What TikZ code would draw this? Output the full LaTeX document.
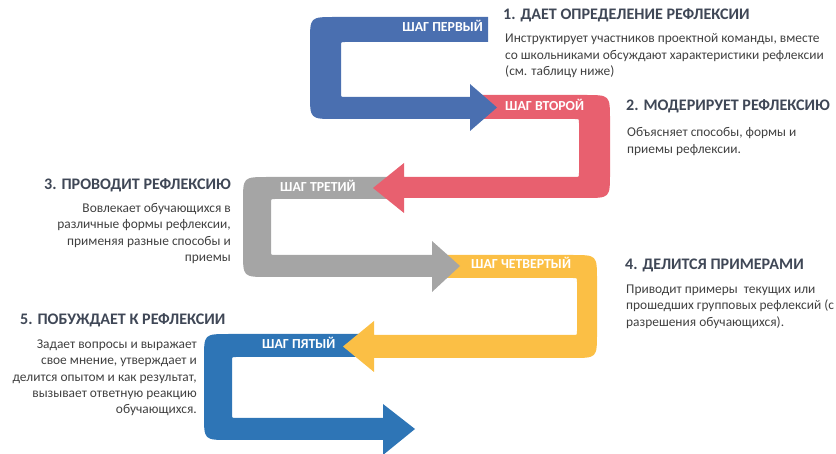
\documentclass[tikz,border=0pt]{standalone}
\usepackage{fontspec}
\setmainfont{Carlito}
\definecolor{blueA}{HTML}{4A6FB0}
\definecolor{pinkA}{HTML}{E8606F}
\definecolor{grayA}{HTML}{A5A5A5}
\definecolor{yellowA}{HTML}{FBBF45}
\definecolor{blueB}{HTML}{2E75B6}
\definecolor{headC}{HTML}{3F4756}
\definecolor{bodyC}{HTML}{404040}
\tikzset{
  steplabel/.style={text=white,font=\bfseries\fontsize{13.8}{16}\selectfont,inner sep=0pt,text height=0.7em,text depth=0.2em},
  headtxt/.style={text=headC,font=\bfseries\fontsize{16.1}{19}\selectfont,inner sep=0pt,text height=0.7em,text depth=0.2em},
  bodytxt/.style={text=bodyC,font=\fontsize{13.4}{16}\selectfont,inner sep=0pt,text height=0.7em,text depth=0.2em}
}
\begin{document}
\begin{tikzpicture}[x=1pt,y=-1pt]
\useasboundingbox (0,0) rectangle (836,454);
% arrows, drawn last-to-first so heads overlap the next bar
\fill[blueB] (360,334) -- (229,334) .. controls (204,334) .. (204,359) -- (204,415) .. controls (204,440) .. (229,440) -- (383,440) -- (383,455) -- (415,429) -- (383,404) -- (383,418) -- (236,418) .. controls (232,418) .. (232,414) -- (232,361) .. controls (232,357) .. (236,357) -- (360,357) -- cycle;
\fill[yellowA] (445,255) -- (572,255) .. controls (597,255) .. (597,280) -- (597,333) .. controls (597,358) .. (572,358) -- (374,358) -- (374,372) -- (343,346.5) -- (374,321) -- (374,335) -- (573,335) .. controls (577,335) .. (577,331) -- (577,282) .. controls (577,278) .. (573,278) -- (445,278) -- cycle;
\fill[grayA] (395,177) -- (268,177) .. controls (243,177) .. (243,202) -- (243,252) .. controls (243,277) .. (268,277) -- (432,277) -- (432,292) -- (460,266) -- (432,241) -- (432,255) -- (275,255) .. controls (271,255) .. (271,251) -- (271,203) .. controls (271,199) .. (275,199) -- (395,199) -- cycle;
\fill[pinkA] (478,95) -- (585,95) .. controls (610,95) .. (610,120) -- (610,173) .. controls (610,198) .. (585,198) -- (404,198) -- (404,213) -- (373,188) -- (404,163) -- (404,177) -- (575,177) .. controls (579,177) .. (579,173) -- (579,123) .. controls (579,119) .. (575,119) -- (478,119) -- cycle;
\fill[blueA] (488,17) -- (335,17) .. controls (310,17) .. (310,42) -- (310,94) .. controls (310,119) .. (335,119) -- (470,119) -- (470,131) -- (497,107.5) -- (470,84) -- (470,97) -- (345,97) .. controls (341,97) .. (341,93) -- (341,46) .. controls (341,42) .. (345,42) -- (488,42) -- cycle;
% step labels
\node[steplabel,anchor=east] (s1) at (483,29.5) {ШАГ ПЕРВЫЙ};
\node[steplabel,anchor=west] (s2) at (505,108) {ШАГ ВТОРОЙ};
\node[steplabel,anchor=west] (s3) at (280,189) {ШАГ ТРЕТИЙ};
\node[steplabel,anchor=west] (s4) at (471,266) {ШАГ ЧЕТВЕРТЫЙ};
\node[steplabel,anchor=west] (s5) at (262,346) {ШАГ ПЯТЫЙ};
% step 1
\node[headtxt,anchor=west] (h1) at (503,17.5) {1. ДАЕТ ОПРЕДЕЛЕНИЕ РЕФЛЕКСИИ};
\node[bodytxt,anchor=west] (b1a) at (505,40) {Инструктирует участников проектной команды, вместе};
\node[bodytxt,anchor=west] (b1b) at (505,57) {со школьниками обсуждают характеристики рефлексии};
\node[bodytxt,anchor=west] (b1c) at (505,73) {(см. таблицу ниже)};
% step 2
\node[headtxt,anchor=west] (h2) at (626,108.5) {2. МОДЕРИРУЕТ РЕФЛЕКСИЮ};
\node[bodytxt,anchor=west] (b2a) at (627,134) {Объясняет способы, формы и};
\node[bodytxt,anchor=west] (b2b) at (627,151) {приемы рефлексии.};
% step 3
\node[headtxt,anchor=east] (h3) at (231,187.5) {3. ПРОВОДИТ РЕФЛЕКСИЮ};
\node[bodytxt,anchor=east] (b3a) at (231,210) {Вовлекает обучающихся в};
\node[bodytxt,anchor=east] (b3b) at (231,226) {различные формы рефлексии,};
\node[bodytxt,anchor=east] (b3c) at (231,243) {применяя разные способы и};
\node[bodytxt,anchor=east] (b3d) at (231,259) {приемы};
% step 4
\node[headtxt,anchor=west] (h4) at (625,267.5) {4. ДЕЛИТСЯ ПРИМЕРАМИ};
\node[bodytxt,anchor=west] (b4a) at (626,291) {Приводит примеры\ \ текущих или};
\node[bodytxt,anchor=west] (b4b) at (626,307) {прошедших групповых рефлексий (с};
\node[bodytxt,anchor=west] (b4c) at (626,324) {разрешения обучающихся).};
% step 5
\node[headtxt,anchor=west] (h5) at (20,322.5) {5. ПОБУЖДАЕТ К РЕФЛЕКСИИ};
\node[bodytxt,anchor=east] (b5a) at (197,346) {Задает вопросы и выражает};
\node[bodytxt,anchor=east] (b5b) at (197,362) {свое мнение, утверждает и};
\node[bodytxt,anchor=east] (b5c) at (197,379) {делится опытом и как результат,};
\node[bodytxt,anchor=east] (b5d) at (197,395) {вызывает ответную реакцию};
\node[bodytxt,anchor=east] (b5e) at (197,411) {обучающихся.};
\end{tikzpicture}
\end{document}
